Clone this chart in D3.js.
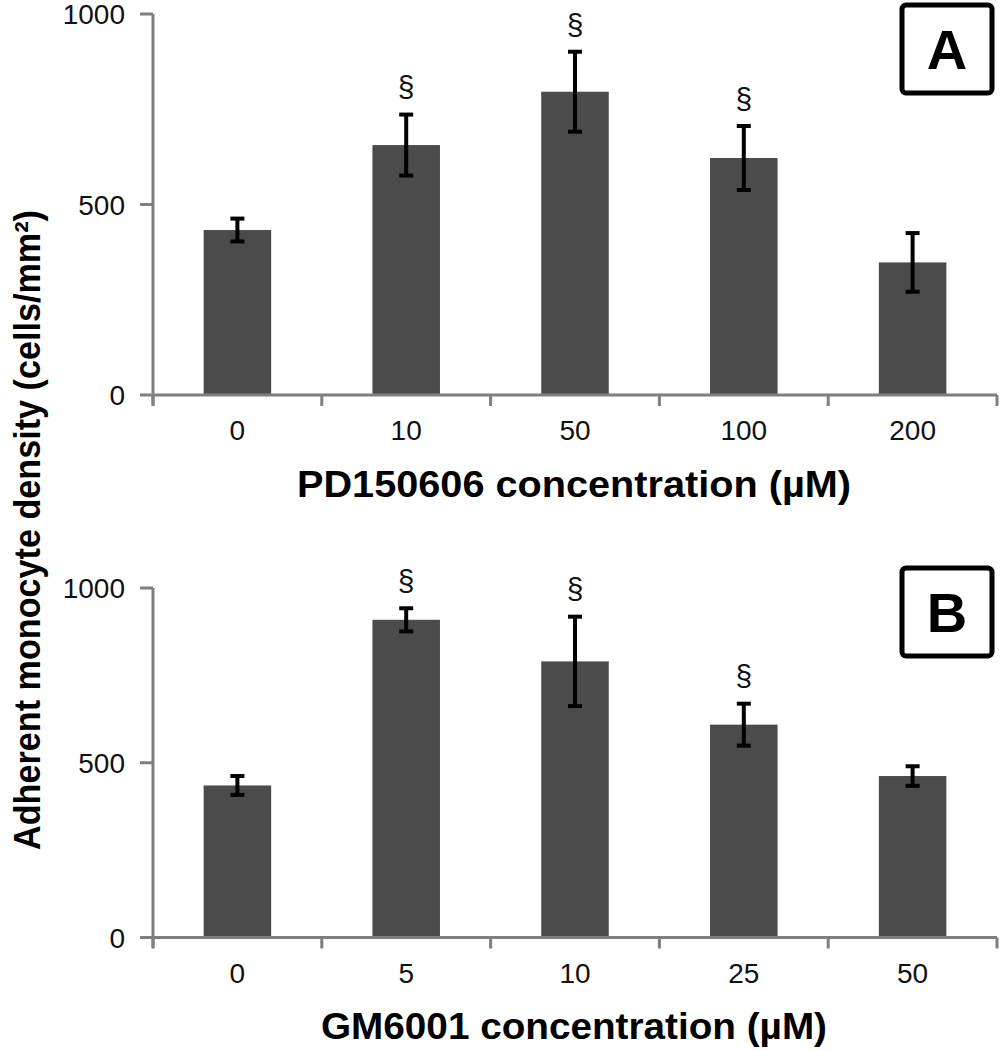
<!DOCTYPE html>
<html><head><meta charset="utf-8">
<script src="https://cdn.jsdelivr.net/npm/d3@7"></script>
<style>body{margin:0;background:#fff}svg{display:block}</style>
</head><body>
<svg id="c" width="1000" height="1050"></svg>
<script>
const catsA = ["0","10","50","100","200"];
const meansA = [433, 656, 796, 622, 348];
const errsA = [30, 80, 105, 84, 77];
const sigA = [false, true, true, true, false];

const catsB = ["0","5","10","25","50"];
const meansB = [435, 909, 790, 609, 462];
const errsB = [27, 33, 128, 60, 28];
const sigB = [false, true, true, true, false];

const yTicks = [0, 500, 1000];
const titleA = "PD150606 concentration (\u00b5M)";
const titleB = "GM6001 concentration (\u00b5M)";
const yTitle = "Adherent monocyte density (cells/mm\u00b2)";

const svg = d3.select("#c");
const FONT = "'Liberation Sans', Arial, Helvetica, sans-serif";
const AX = "#7f7f7f";

function panel(cats, means, errs, sig, y0, y1, title, titleY, titleLen, letter, boxY) {
  const x = d3.scaleBand().domain(cats).range([153, 997]).paddingInner(0.6).paddingOuter(0.3);
  const y = d3.scaleLinear().domain([0, 1000]).range([y0, y1]);
  const g = svg.append("g");
  g.selectAll("rect.bar").data(cats).join("rect").attr("class","bar")
    .attr("x", d => x(d)).attr("width", x.bandwidth())
    .attr("y", (d,i) => y(means[i])).attr("height", (d,i) => y(0) - y(means[i]))
    .attr("fill", "#4b4b4b");
  g.append("line").attr("x1", 153).attr("x2", 153).attr("y1", y(1000)).attr("y2", y(0) + 10)
    .attr("stroke", AX).attr("stroke-width", 3);
  g.append("line").attr("x1", 153).attr("x2", 997).attr("y1", y(0)).attr("y2", y(0))
    .attr("stroke", AX).attr("stroke-width", 3);
  const step = x.step();
  const bounds = d3.range(cats.length + 1).map(i => 153 + i * step);
  g.selectAll("line.xt").data(bounds).join("line").attr("class","xt")
    .attr("x1", d => d).attr("x2", d => d).attr("y1", y(0)).attr("y2", y(0) + 11)
    .attr("stroke", AX).attr("stroke-width", 3);
  g.selectAll("line.yt").data(yTicks).join("line").attr("class","yt")
    .attr("x1", 140).attr("x2", 153).attr("y1", d => y(d)).attr("y2", d => y(d))
    .attr("stroke", AX).attr("stroke-width", 3);
  g.selectAll("text.yl").data(yTicks).join("text").attr("class","yl")
    .attr("x", 125).attr("y", d => y(d)).attr("dy", "0.36em")
    .attr("text-anchor", "end").attr("font-family", FONT).attr("font-size", 28).attr("fill", "#111")
    .text(d => d);
  g.selectAll("text.xl").data(cats).join("text").attr("class","xl")
    .attr("x", d => x(d) + x.bandwidth()/2).attr("y", y(0) + 35).attr("dy", "0.36em")
    .attr("text-anchor", "middle").attr("font-family", FONT).attr("font-size", 28).attr("fill", "#111")
    .text(d => d);
  cats.forEach((c, i) => {
    const cx = x(c) + x.bandwidth()/2;
    const t = y(means[i] + errs[i]), b = y(means[i] - errs[i]);
    g.append("line").attr("x1", cx).attr("x2", cx).attr("y1", t).attr("y2", b).attr("stroke", "#000").attr("stroke-width", 4);
    [t, b].forEach(v => g.append("line").attr("x1", cx - 7).attr("x2", cx + 7).attr("y1", v).attr("y2", v).attr("stroke", "#000").attr("stroke-width", 4));
    if (sig[i]) {
      g.append("text").attr("x", cx).attr("y", t - 28).attr("dy", "0.36em").attr("text-anchor", "middle")
        .attr("font-family", FONT).attr("font-size", 30).attr("fill", "#111").text("\u00a7");
    }
  });
  g.append("text").attr("x", 574).attr("y", titleY).attr("text-anchor", "middle")
    .attr("font-family", FONT).attr("font-weight", "bold").attr("font-size", 36).attr("fill", "#000")
    .attr("textLength", titleLen).attr("lengthAdjust", "spacingAndGlyphs").text(title);
  g.append("rect").attr("x", 902).attr("y", boxY).attr("width", 90).attr("height", 88).attr("rx", 4)
    .attr("fill", "#fff").attr("stroke", "#000").attr("stroke-width", 5);
  g.append("text").attr("x", 947).attr("y", boxY + 44).attr("dy", "0.36em").attr("text-anchor", "middle")
    .attr("font-family", FONT).attr("font-weight", "bold").attr("font-size", 56).attr("fill", "#000").text(letter);
}

panel(catsA, meansA, errsA, sigA, 395, 14, titleA, 497, 554, "A", 5);
panel(catsB, meansB, errsB, sigB, 937.5, 588, titleB, 1039, 506, "B", 568);

svg.append("text").attr("transform", "translate(40,530) rotate(-90)").attr("text-anchor", "middle")
  .attr("font-family", FONT).attr("font-weight", "bold").attr("font-size", 36).attr("fill", "#000")
  .attr("textLength", 640).attr("lengthAdjust", "spacingAndGlyphs")
  .text(yTitle);
</script>
</body></html>
